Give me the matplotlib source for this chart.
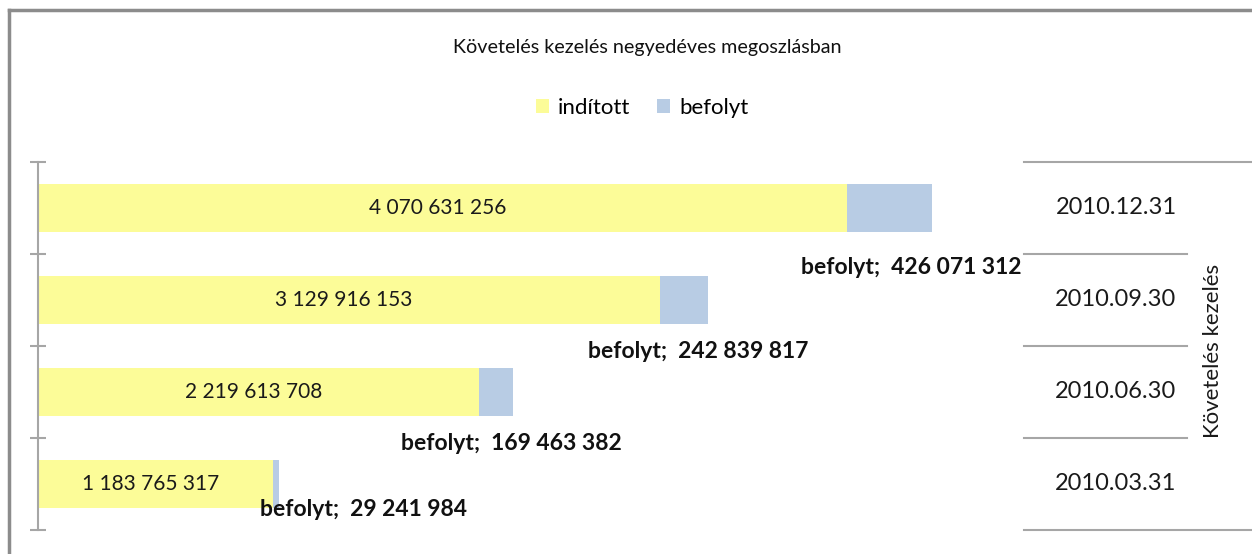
import numpy as np
import matplotlib.pyplot as plt
from matplotlib.lines import Line2D
import matplotlib.transforms as mtransforms

plt.rcParams['font.family'] = ['Lato', 'DejaVu Sans']

# data, bottom to top
dates = ["2010.03.31", "2010.06.30", "2010.09.30", "2010.12.31"]
inditott = [1183765317, 2219613708, 3129916153, 4070631256]
befolyt = [29241984, 169463382, 242839817, 426071312]
inditott_labels = ["1 183 765 317", "2 219 613 708", "3 129 916 153", "4 070 631 256"]
befolyt_labels = ["29 241 984", "169 463 382", "242 839 817", "426 071 312"]
# label offsets (pixels) from blue segment centre
lab_dx = [87, 15, 14, 22]
lab_dy = [-26, -52, -52, -60]

yellow = "#fcfc98"
blue = "#b8cce4"
grey = "#a6a6a6"
W, H = 1252, 554

fig = plt.figure(figsize=(W / 100, H / 100), dpi=100)
ax = fig.add_axes([38 / W, 1 - 530 / H, (1024 - 38) / W, (530 - 162) / H])

y = np.arange(len(dates))
ax.barh(y, inditott, height=0.52, color=yellow, label="indított")
ax.barh(y, befolyt, left=inditott, height=0.52, color=blue, label="befolyt")

for i in range(len(dates)):
    ax.text(inditott[i] / 2 - 2.5e7, y[i], inditott_labels[i], ha="center", va="center",
            fontsize=15, color="#1a1a1a")
    ax.annotate("befolyt;  " + befolyt_labels[i], xy=(inditott[i] + befolyt[i] / 2, y[i]),
                xytext=(lab_dx[i], lab_dy[i]), textcoords="offset pixels",
                ha="center", va="center", fontsize=16.5, fontweight="bold", color="#111111")

ax.set_xlim(0, 4.96e9)
ax.set_ylim(-0.5, 3.5)
ax.set_yticks(np.arange(-0.5, 4, 1))
ax.set_yticklabels([])
ax.tick_params(axis="y", direction="inout", length=12, width=1.5, color=grey)
ax.set_xticks([])
for s in ["top", "right", "bottom"]:
    ax.spines[s].set_visible(False)
ax.spines["left"].set_color(grey)
ax.spines["left"].set_linewidth(1.5)

# category table on the right
tr = mtransforms.blended_transform_factory(ax.transAxes, ax.transData)
x0 = 1.0
x_mid = (1187 - 38) / 986
x_end = (1252 - 38) / 986
for yy in np.arange(-0.5, 4, 1):
    xe = x_end if yy in (-0.5, 3.5) else x_mid
    ax.plot([x0, xe], [yy, yy], color=grey, lw=1.5, transform=tr, clip_on=False)
for i, d in enumerate(dates):
    ax.text((1116 - 38) / 986, y[i], d, transform=tr, ha="center", va="center",
            fontsize=17, color="#1a1a1a")
ax.text((1213 - 38) / 986, 1.45, "Követelés kezelés", transform=tr, rotation=90,
        ha="center", va="center", fontsize=16, color="#1a1a1a")

fig.text(647 / W, 1 - 47 / H, "Követelés kezelés negyedéves megoszlásban",
         ha="center", va="center", fontsize=14.2, color="#111111")
fig.legend(loc="center", bbox_to_anchor=(642 / W, 1 - 108 / H), ncol=2, frameon=False,
           fontsize=16, handlelength=0.6, handleheight=0.6, handletextpad=0.4,
           columnspacing=1.2)

# outer frame
fig.add_artist(Line2D([9 / W, 1], [1 - 10 / H, 1 - 10 / H], color="#8c8c8c", lw=2.5))
fig.add_artist(Line2D([9 / W, 9 / W], [0, 1 - 10 / H], color="#8c8c8c", lw=2.5))

fig.savefig("out.png", dpi=100)
